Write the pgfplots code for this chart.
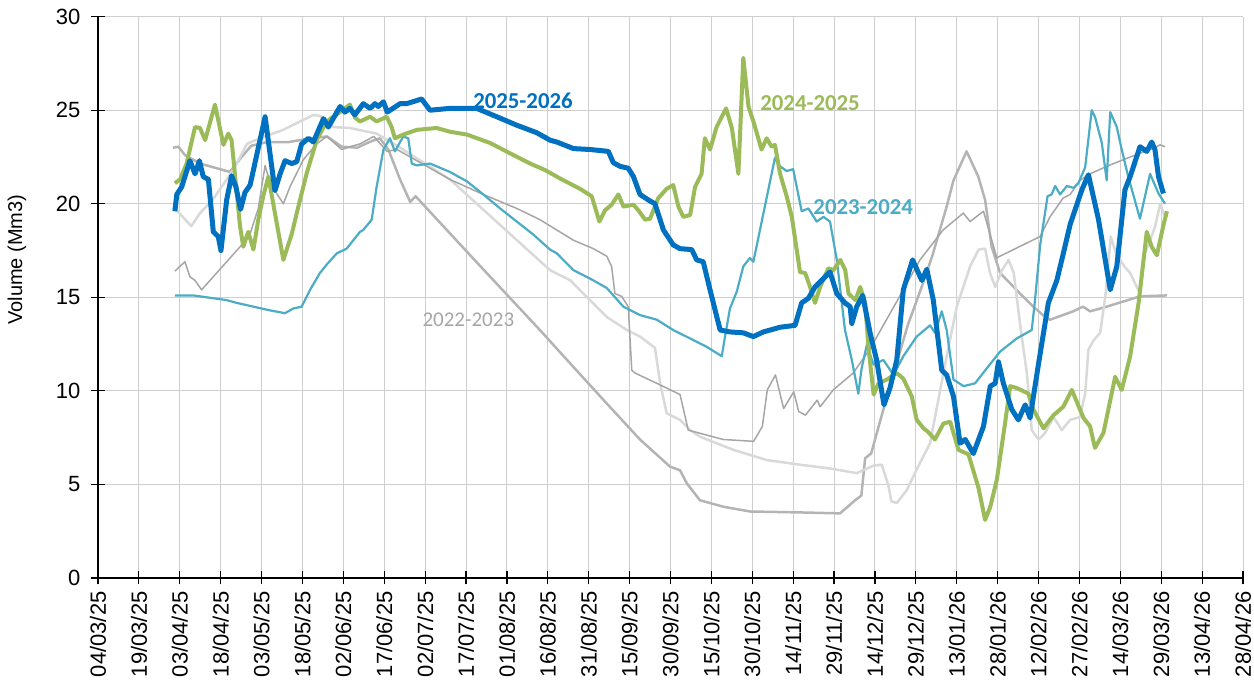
\documentclass[border=0pt]{standalone}
\usepackage{pgfplots}
\pgfplotsset{compat=1.18}
\usepackage{fontspec}
\setmainfont{Liberation Sans}
\newfontfamily\carlito{Carlito}

\definecolor{c2526}{HTML}{0070C0}
\definecolor{c2425}{HTML}{9BBB59}
\definecolor{c2324}{HTML}{4BACC6}
\definecolor{c2223}{HTML}{B4B4B4}
\definecolor{cthin}{HTML}{A6A6A6}
\definecolor{clight}{HTML}{D9D9D9}
\definecolor{gridc}{HTML}{CFCFCF}

\begin{document}
\begin{tikzpicture}
\begin{axis}[
    name=ax,
    scale only axis,
    width=572.5pt, height=280.6pt,
    xmin=0, xmax=420, ymin=0, ymax=30,
    axis lines=left,
    axis line style={-, black, line width=0.6pt},
    xtick={0,15,...,420},
    xticklabels={04/03/25,19/03/25,03/04/25,18/04/25,03/05/25,18/05/25,02/06/25,17/06/25,
        02/07/25,17/07/25,01/08/25,16/08/25,31/08/25,15/09/25,30/09/25,15/10/25,30/10/25,
        14/11/25,29/11/25,14/12/25,29/12/25,13/01/26,28/01/26,12/02/26,27/02/26,14/03/26,
        29/03/26,13/04/26,28/04/26},
    ytick={0,5,...,30},
    tick align=center,
    major tick length=6.5pt,
    tick style={black, line width=0.6pt},
    grid=major,
    major grid style={gridc, line width=0.5pt},
    /pgf/number format/assume math mode=true,
    ticklabel style={font=\fontsize{11}{13}\selectfont},
    x tick label style={rotate=90, anchor=east, yshift=0pt},
    yticklabel style={xshift=-2pt},
    ylabel={Volume (Mm3)},
    ylabel style={font=\fontsize{11}{13}\selectfont},
    every axis y label/.style={at={(rel axis cs:0,0.567)}, xshift=-40.5pt, rotate=90, anchor=center},
    line join=round,
    clip=false,
]
% 2022-2023 (medium grey)
\addplot[c2223, line width=1.25pt] coordinates {
(27.5,23.0)(29.5,23.05)(31.9,22.6)(37.4,22.15)(48.4,21.7)(52.1,22.4)(56.2,23.1)(62,23.3)(70,23.3)
(76,23.45)(84,23.6)(89.4,23.05)(95,23.0)(100.4,23.35)(103.4,23.5)(106.5,22.9)(110.8,21.3)(114.5,20.1)
(116.5,20.4)(140,16.7)(162.1,13.25)(173.3,11.45)(185.5,9.5)(198.8,7.4)(209.8,5.95)(213.5,5.75)(216,5.05)
(220.8,4.15)(229.5,3.8)(239.2,3.55)(257.5,3.5)(272.2,3.45)(277.7,4.15)(280,4.4)(281.4,6.4)(283.6,6.65)
(287.5,8.7)(292,11.0)(297,13.5)(302,15.5)(306,17.2)(311.3,19.85)(313.8,21.25)(318.6,22.8)(322.9,21.45)
(325.4,20.2)(327.8,17.7)(330.9,16.3)(338.2,15.2)(343.1,14.5)(347.4,13.95)(349.2,13.8)(357.7,14.25)
(361.3,14.5)(363.9,14.25)(370,14.5)(382.2,15.05)(392.1,15.1)
};
% light grey year
\addplot[clight, line width=1.25pt] coordinates {
(27.5,19.8)(29.5,19.55)(34.2,18.8)(37.4,19.5)(42,20.2)(49.6,21.8)(54.6,23.2)(59.4,23.5)(67.9,23.95)
(79,24.75)(81.4,24.7)(86.3,24.1)(92.4,24.05)(102.2,23.75)(110.8,23.0)(129.1,21.3)(165.8,16.45)
(173.3,15.9)(186.6,13.95)(194,13.25)(198.8,12.9)(204.3,12.3)(206.2,10.4)(208.6,8.8)(213.5,8.45)
(217.2,7.9)(220.8,7.55)(233,6.85)(245.3,6.3)(257.5,6.05)(268.5,5.85)(278.3,5.6)(284.4,6.0)(287.5,6.05)
(290,4.9)(291,4.1)(293,4.0)(296.7,4.7)(300.3,5.8)(305.2,7.2)(311.3,11.85)(315,14.5)(319.9,16.65)
(323,17.55)(325.4,17.6)(327.2,16.3)(329.1,15.55)(331.6,16.45)(334,17.0)(335.9,16.3)(338.2,13.6)
(340.7,10.95)(342.5,7.9)(345,7.4)(347.4,7.75)(350.5,8.6)(353.5,7.9)(356.6,8.45)(360.2,8.6)(362.1,9.85)
(363.3,12.2)(365.2,12.7)(367.6,13.1)(369.5,15.05)(371.5,18.25)(373.4,17.35)(376.5,16.65)(378.6,16.3)
(382.2,15.2)(384,17.35)(385.9,18.05)(387.8,18.8)(389.6,20.0)(391.4,19.3)
};
% thin dark grey year
\addplot[cthin, line width=0.75pt] coordinates {
(28.2,16.4)(31.9,16.9)(33.7,16.1)(35.6,15.9)(38,15.4)(42.3,16.1)(47.2,16.9)(52.1,17.7)(55.8,18.4)
(58.8,19.75)(61.3,22.05)(63.1,21.1)(68,20.0)(70.4,20.9)(75.3,22.35)(80.2,23.2)(83.9,23.6)(86.3,23.3)
(89.4,22.9)(92.4,23.05)(96.1,23.2)(101.2,23.6)(106,22.8)(109.7,22.9)(129.1,21.3)(141.3,20.5)
(153.6,19.75)(162.1,19.15)(174.4,18.05)(181.7,17.6)(186.6,17.2)(188.4,16.65)(189.6,15.2)(192.1,15.05)
(194.5,14.5)(195.8,11.1)(197,10.95)(205,10.4)(213.5,9.8)(216.5,7.9)(229.3,7.4)(240.5,7.3)(243.7,8.1)
(245.5,10.05)(248.5,10.85)(251.5,9.05)(255.2,9.95)(257,8.9)(259.5,8.7)(263.8,9.5)(264.9,9.15)
(269.7,10.05)(277,10.95)(283,12.2)(290,14.0)(295,15.3)(301.5,17.0)(310,18.6)(317.4,19.5)(319.9,19.05)
(324.8,19.6)(329.7,17.1)(330.9,17.2)(345.6,18.25)(349.2,19.3)(354,20.3)(356.6,20.5)(360.2,21.25)
(363.9,21.6)(370,22.0)(376,22.35)(382.2,22.7)(387,22.95)(389.6,23.15)(391.4,23.05)
};
% 2023-2024
\addplot[c2324, line width=1.1pt] coordinates {
(28.2,15.1)(35.0,15.1)(42.3,14.95)(47.2,14.85)(50.9,14.7)(57.0,14.5)(63.1,14.3)(68.6,14.15)(71.6,14.4)
(74.7,14.5)(77.8,15.4)(81.4,16.3)(83.9,16.75)(87.6,17.35)(91.2,17.6)(96.1,18.5)(97.3,18.6)(100.4,19.15)
(102.2,20.9)(104.7,22.9)(107.1,23.5)(108.9,22.8)(112.0,23.6)(113.8,23.5)(115.1,22.15)(116.9,22.05)
(121.8,22.15)(129.1,21.7)(135.3,21.2)(141.3,20.5)(147.5,19.75)(153.6,19.05)(159.7,18.35)(165.8,17.55)
(168.3,17.35)(174.4,16.45)(180.5,16.0)(186.6,15.5)(192.7,14.5)(198.8,14.05)(205.0,13.8)(211.0,13.25)
(217.2,12.8)(223.3,12.35)(228.8,11.85)(230.0,12.9)(231.8,14.4)(234.3,15.3)(236.7,16.65)(239.1,17.1)
(240.4,16.9)(244.1,19.5)(248.3,22.45)(250.2,22.0)(252.6,21.75)(255.0,21.85)(258.1,19.6)(260.6,19.75)
(263.6,19.05)(266.1,19.3)(268.5,19.05)(271.0,17.0)(274.0,13.25)(276.5,11.65)(278.9,9.85)(280.1,11.2)
(282.0,12.45)(284.5,11.4)(288.1,11.65)(291.8,10.85)(295.4,11.85)(300.3,12.9)(305.2,13.5)(307.0,13.1)
(309.5,14.25)(311.3,13.25)(313.8,10.6)(317.5,10.25)(321.7,10.4)(326.0,11.2)(330.9,12.1)(337.0,12.8)
(342.5,13.25)(343.7,14.85)(345.6,17.8)(348.3,20.4)(349.8,20.5)(351.1,20.95)(352.9,20.5)(355.4,20.95)
(357.8,20.85)(359.6,21.1)(362.1,21.95)(364.5,25.0)(365.7,24.65)(368.2,23.25)(370.0,21.25)(371.3,24.9)
(373.7,24.1)(375.5,22.9)(377.9,21.45)(382.2,19.2)(385.9,21.6)(389.0,20.55)(391.4,20.0)
};
% 2024-2025
\addplot[c2425, line width=2pt] coordinates {
(28.2,21.1)(30.1,21.3)(32.5,22.15)(35.6,24.1)(37.4,24.05)(39.3,23.4)(42.9,25.3)(46.0,23.15)(47.8,23.75)
(49.0,23.4)(52.1,18.8)(53.3,17.7)(55.1,18.5)(57.0,17.55)(58.8,19.15)(60.6,20.4)(62.5,21.45)(64.9,19.5)
(68.0,17.0)(71.1,18.4)(72.9,19.5)(76.5,21.6)(80.2,23.4)(83.9,24.4)(86.3,24.65)(88.8,24.9)(92.4,25.3)
(94.3,24.6)(96.1,24.4)(99.8,24.65)(102.2,24.4)(105.9,24.65)(107.7,24.1)(108.9,23.5)(112.0,23.7)
(116.9,23.95)(124.2,24.05)(129.1,23.85)(135.3,23.7)(143.8,23.25)(151.1,22.7)(158.5,22.15)(164,21.8)
(169.5,21.35)(176.8,20.8)(181.1,20.4)(183.9,19.05)(186.0,19.65)(188.4,19.95)(190.9,20.5)(192.7,19.85)
(196.4,19.95)(198.2,19.65)(200.7,19.15)(202.5,19.2)(205.5,20.3)(208.6,20.8)(211.0,21.0)(212.9,19.85)
(214.7,19.3)(217.2,19.4)(219.0,20.9)(221.4,21.6)(222.6,23.5)(224.5,22.9)(226.9,24.1)(228.8,24.65)
(230.4,25.1)(232.5,24.05)(234.9,21.6)(236.7,27.8)(238.6,25.2)(240.4,24.4)(243.4,22.9)(245.3,23.5)
(247.1,23.05)(248.3,23.15)(250.2,21.6)(252.6,20.4)(254.5,19.3)(257.5,16.35)(259.4,16.3)(261.2,15.55)
(263.0,14.7)(264.9,15.55)(267.9,16.55)(269.8,16.45)(272.3,17.0)(274.1,16.45)(275.3,15.2)(277.8,14.85)
(279.6,15.55)(281.4,14.7)(282.6,12.35)(284.5,9.8)(286.3,10.4)(289.3,10.6)(293.0,10.95)(295.4,10.65)
(298.5,9.7)(300.3,8.45)(302.8,8.0)(304.5,7.8)(307.0,7.4)(310.1,8.25)(312.6,8.35)(315.6,6.85)(319.3,6.6)
(323.0,4.8)(325.4,3.1)(327.3,3.8)(329.7,5.25)(332.7,8.25)(334.6,10.25)(337.0,10.15)(341.3,9.85)
(343.1,9.0)(346.8,8.0)(350.5,8.7)(354.1,9.15)(357.2,10.05)(361.5,8.55)(363.9,8.1)(365.7,6.95)(368.8,7.75)
(370.6,9.0)(373.1,10.75)(375.5,10.05)(378.6,11.85)(381.7,14.7)(384.7,18.5)(386.5,17.7)(388.4,17.25)
(390.8,18.85)(392.1,19.6)
};
% 2025-2026
\addplot[c2526, line width=2.5pt] coordinates {
(28.2,19.6)(28.9,20.5)(30.7,20.9)(33.7,22.3)(35.6,21.6)(37.2,22.3)(38.6,21.45)(40.5,21.3)(42.3,18.5)
(44.1,18.25)(45.1,17.5)(47.2,20.2)(49.0,21.5)(50.6,20.9)(52.3,19.7)(53.9,20.6)(55.8,21.0)(61.3,24.65)
(64.9,20.7)(66.8,21.6)(68.6,22.3)(71.1,22.15)(72.9,22.25)(74.7,23.2)(77.2,23.5)(79.0,23.3)(82.7,24.55)
(84.5,24.1)(88.8,25.2)(90.6,24.9)(92.4,25.1)(94.2,24.75)(97.3,25.35)(99.8,25.1)(101.6,25.35)(102.8,25.2)
(104.7,25.45)(106.1,24.9)(110.8,25.35)(113.2,25.35)(118.7,25.6)(121.8,25.0)(129.1,25.1)(138.9,25.1)
(146.3,24.65)(153.6,24.2)(160.9,23.8)(165.8,23.4)(168.3,23.3)(174.4,22.95)(180.5,22.9)(187.2,22.8)
(189.0,22.2)(191.5,22.0)(194.5,21.9)(196.4,21.45)(198.8,20.5)(201.9,20.2)(204.3,20.0)(207.4,18.6)
(211.0,17.8)(213.5,17.6)(217.8,17.55)(219.6,17.0)(222.0,16.9)(224.5,15.4)(228.2,13.25)(231.8,13.15)
(236.7,13.1)(240.4,12.9)(244.1,13.15)(250.2,13.4)(255.7,13.5)(258.1,14.7)(260.6,14.95)(263.0,15.55)
(268.5,16.35)(271.0,15.2)(274.0,14.7)(275.9,14.5)(276.5,13.6)(278.3,14.5)(280.5,15.1)(283.2,13.1)
(285.6,11.65)(288.3,9.25)(290.5,10.15)(293.0,11.65)(295.4,15.4)(298.8,17.0)(302.2,15.9)(304.0,16.5)
(306.4,14.85)(309.5,11.1)(311.3,10.85)(313.8,9.7)(316.2,7.2)(318.1,7.4)(321.1,6.65)(324.8,8.1)
(327.3,10.25)(329.1,10.4)(330.3,11.55)(332.1,10.4)(335.2,9.0)(337.6,8.45)(340.1,9.25)(341.9,8.55)
(345.0,11.45)(348.6,14.7)(351.7,15.9)(354.1,17.35)(356.6,18.9)(360.9,20.75)(363.3,21.55)(367.0,19.15)
(371.3,15.4)(373.7,16.65)(376.7,20.75)(378.6,21.45)(382.2,23.05)(384.7,22.8)(386.5,23.3)(387.7,22.9)
(389.0,21.45)(390.8,20.55)
};
\node[anchor=west, inner sep=0, text=c2526, font=\carlito\bfseries\fontsize{11.4}{13}\selectfont] at (axis cs:137.5,25.5) {2025-2026};
\node[anchor=west, inner sep=0, text=c2425, font=\carlito\bfseries\fontsize{11.4}{13}\selectfont] at (axis cs:242.8,25.4) {2024-2025};
\node[anchor=west, inner sep=0, text=c2324, font=\carlito\bfseries\fontsize{11.4}{13}\selectfont] at (axis cs:262.3,19.8) {2023-2024};
\node[anchor=west, inner sep=0, text=cthin, font=\carlito\fontsize{10.5}{12}\selectfont] at (axis cs:118.9,13.8) {2022-2023};
\end{axis}
\pgfresetboundingbox
\path[use as bounding box] ([shift={(-49pt,-53pt)}]ax.south west) rectangle ([shift={(5.5pt,8.35pt)}]ax.north east);
\end{tikzpicture}
\end{document}
